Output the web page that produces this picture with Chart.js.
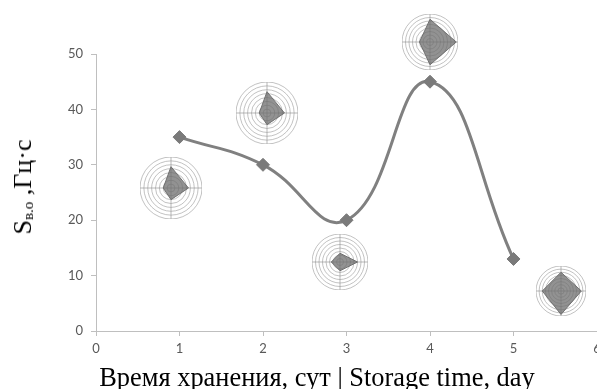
<!DOCTYPE html>
<html>
<head>
<meta charset="utf-8">
<script src="https://cdn.jsdelivr.net/npm/chart.js@4/dist/chart.umd.min.js"></script>
<style>
  html, body { margin: 0; padding: 0; background: #fff; overflow: hidden; }
  #wrap { position: relative; width: 597px; height: 389px; overflow: hidden; }
  #box { position: absolute; left: 0; top: 0; width: 620px; height: 389px; }
  .inset { position: absolute; }
  #ytitle {
    position: absolute; left: 23px; top: 187px;
    transform: translate(-50%, -50%) rotate(-90deg);
    font-family: "Liberation Serif", serif; font-size: 26px; color: #000;
    white-space: nowrap; line-height: 1;
  }
  #ytitle sub { font-size: 15px; vertical-align: -2px; }
  #xtitle {
    position: absolute; left: 317px; top: 364px;
    transform: translateX(-50%);
    font-family: "Liberation Serif", serif; font-size: 26.4px; color: #000;
    white-space: nowrap; line-height: 1;
  }
</style>
</head>
<body>
<div id="wrap">
  <div id="box"><canvas id="main"></canvas></div>
  <div id="ytitle">S<sub>в.о</sub> ,Гц·с</div>
  <div id="xtitle">Время хранения, сут | Storage time, day</div>
</div>
<script>
// storage day vs S value
var days = [1, 2, 3, 4, 5];
var sValues = [35, 30, 20, 45, 13];
var xTicks = [0, 1, 2, 3, 4, 5, 6];
var yTicks = [0, 10, 20, 30, 40, 50];

// small radar pictures: values on 4 spokes (top, right, bottom, left), 8 rings
var radarSpokes = ['0', '90', '180', '270'];
var radarDay1 = [5.5, 4.5, 3, 2];
var radarDay2 = [5.5, 4.5, 3, 2];
var radarDay3 = [2.5, 5, 2.5, 2.5];
var radarDay4 = [6.5, 7.5, 6.5, 3];
var radarDay5 = [6, 6.5, 7.5, 6];

// where each radar sits (data coords of its centre) and its radius in px
var insetPlaces = [
  { vals: radarDay1, x: 0.9, y: 25.8, r: 31 },
  { vals: radarDay2, x: 2.05, y: 39.3, r: 31 },
  { vals: radarDay3, x: 2.92, y: 12.4, r: 28 },
  { vals: radarDay4, x: 4.0, y: 52.1, r: 28 },
  { vals: radarDay5, x: 5.57, y: 7.2, r: 25 }
];

var axisGray = '#bfbfbf';
var tickFont = { family: 'Lato, "Open Sans", sans-serif', size: 13 };

var points = days.map(function (d, i) { return { x: d, y: sValues[i] }; });

var main = new Chart(document.getElementById('main'), {
  type: 'line',
  data: {
    datasets: [{
      data: points,
      borderColor: '#808080',
      borderWidth: 3,
      tension: 0.45,
      pointStyle: 'rectRot',
      pointRadius: 6.5,
      pointBackgroundColor: '#7a7a7a',
      pointBorderColor: '#7a7a7a',
      pointBorderWidth: 1
    }]
  },
  options: {
    responsive: true,
    maintainAspectRatio: false,
    animation: false,
    layout: { padding: { top: 54, right: 23, left: 0, bottom: 0 } },
    plugins: { legend: { display: false }, tooltip: { enabled: false } },
    scales: {
      x: {
        type: 'linear', min: 0, max: 6,
        afterBuildTicks: function (s) { s.ticks = xTicks.map(function (v) { return { value: v }; }); },
        afterFit: function (s) { s.height = 58; },
        ticks: { color: '#595959', font: tickFont, padding: 5 },
        grid: { drawOnChartArea: false, drawTicks: true, tickLength: 5, color: axisGray },
        border: { color: axisGray, width: 1 }
      },
      y: {
        min: 0, max: 50,
        afterBuildTicks: function (s) { s.ticks = yTicks.map(function (v) { return { value: v }; }); },
        afterFit: function (s) { s.width = 96; },
        ticks: { color: '#595959', font: tickFont, padding: 8 },
        grid: { drawOnChartArea: false, drawTicks: true, tickLength: 5, color: axisGray },
        border: { color: axisGray, width: 1 }
      }
    }
  }
});

var xs = main.scales.x, ys = main.scales.y;
var wrap = document.getElementById('wrap');

insetPlaces.forEach(function (p) {
  var c = document.createElement('canvas');
  var size = p.r * 2;
  c.className = 'inset';
  c.style.left = (xs.getPixelForValue(p.x) - p.r) + 'px';
  c.style.top = (ys.getPixelForValue(p.y) - p.r) + 'px';
  c.style.width = size + 'px';
  c.style.height = size + 'px';
  wrap.appendChild(c);

  new Chart(c, {
    type: 'radar',
    data: {
      labels: radarSpokes,
      datasets: [{
        data: p.vals,
        backgroundColor: 'rgba(110,110,110,0.75)',
        borderColor: '#707070',
        borderWidth: 1,
        pointRadius: 0
      }]
    },
    options: {
      responsive: false,
      animation: false,
      plugins: { legend: { display: false }, tooltip: { enabled: false } },
      scales: {
        r: {
          min: 0, max: 8,
          ticks: { display: false, stepSize: 1 },
          pointLabels: { display: false },
          grid: { circular: true, color: '#a8a8a8', lineWidth: 0.7 },
          angleLines: { color: '#9a9a9a', lineWidth: 0.7 }
        }
      }
    }
  });
});
</script>
</body>
</html>
